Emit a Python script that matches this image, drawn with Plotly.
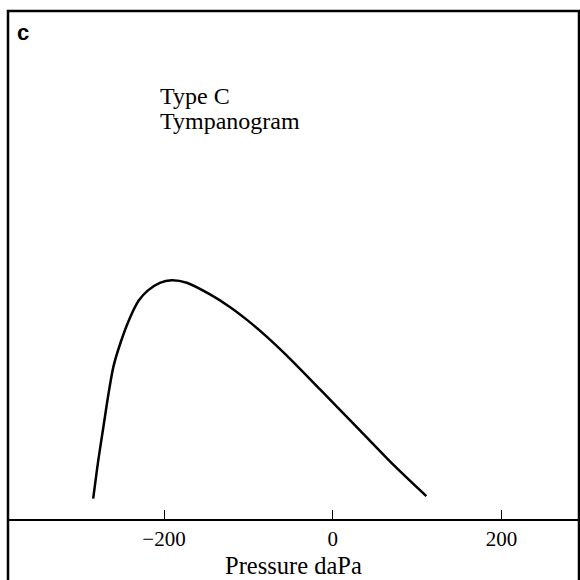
import plotly.graph_objects as go

# Tympanogram (Type C) values
pressure_dapa = [-284, -278, -272, -266, -260, -252, -242, -230, -219, -205, -191,
                 -173, -146, -122, -102, -79, -55, -15, 32, 73, 111]
compliance_ml = [0.08, 0.23, 0.36, 0.49, 0.60, 0.69, 0.78, 0.86, 0.90, 0.93, 0.94,
                 0.93, 0.885, 0.835, 0.785, 0.72, 0.645, 0.51, 0.35, 0.21, 0.09]
tick_vals = [-200, 0, 200]
tick_text = ["\u2212200", "0", "200"]

SERIF = "Liberation Serif, Times New Roman, serif"

fig = go.Figure()
fig.add_trace(go.Scatter(
    x=pressure_dapa, y=compliance_ml, mode="lines",
    line=dict(color="black", width=2.5, shape="spline", smoothing=0.8),
    hoverinfo="skip", showlegend=False,
))

fig.update_layout(
    width=580, height=580,
    margin=dict(l=8, r=1, t=11, b=61),
    paper_bgcolor="white", plot_bgcolor="white",
    font=dict(family=SERIF, color="black", size=17),
    xaxis=dict(
        range=[-385, 292], showgrid=False, zeroline=False,
        showline=True, linecolor="black", linewidth=2,
        ticks="inside", ticklen=9, tickwidth=1, tickcolor="black",
        tickvals=tick_vals, ticktext=tick_text,
        tickfont=dict(size=21, family=SERIF),
    ),
    yaxis=dict(range=[0, 2.0], visible=False, showgrid=False, zeroline=False),
    shapes=[dict(type="rect", xref="paper", yref="paper", x0=0, x1=1, y0=-0.2, y1=1,
                 line=dict(color="black", width=2.5), layer="above")],
    annotations=[
        dict(text="Type C", xref="paper", yref="paper", x=0.262, y=0.833,
             xanchor="left", yanchor="middle", showarrow=False,
             font=dict(size=24, family=SERIF)),
        dict(text="Tympanogram", xref="paper", yref="paper", x=0.262, y=0.783,
             xanchor="left", yanchor="middle", showarrow=False,
             font=dict(size=24, family=SERIF)),
        dict(text="Pressure daPa", xref="paper", yref="paper", x=0.5, y=-0.12,
             xanchor="center", yanchor="bottom", showarrow=False, borderpad=0,
             font=dict(size=24.5, family=SERIF)),
        dict(text="<b>c</b>", xref="paper", yref="paper", x=0.012, y=0.957,
             xanchor="left", yanchor="middle", showarrow=False,
             font=dict(size=22, family="Liberation Sans, Arial, sans-serif")),
    ],
)

fig.write_html("out.html", config={"displayModeBar": False},
               post_script="document.body.style.margin='0';")
